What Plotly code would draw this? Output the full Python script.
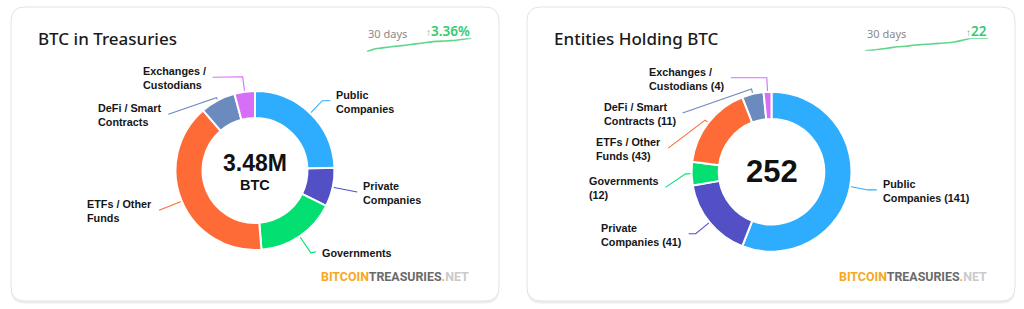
import math
import textwrap
import plotly.graph_objects as go

W, H = 1024, 309

# ---------------- data ----------------
categories = ["Public Companies", "Private Companies", "Governments",
              "ETFs / Other Funds", "DeFi / Smart Contracts", "Exchanges / Custodians"]
slice_colors = ["#2eadfe", "#5350c6", "#03e071", "#fe6b37", "#6b8bbf", "#d66ff5"]

btc_holdings_m = [0.85, 0.275, 0.57, 1.39, 0.25, 0.145]   # million BTC
entity_counts = [141, 41, 12, 43, 11, 4]

btc_total_label = "3.48M"
btc_change_label = "3.36%"
entity_change_label = "22"

spark_days = [0, 2, 4, 6, 8, 10, 12, 14, 16, 18, 20, 22, 24, 26, 28, 30]
btc_30d_m = [3.367, 3.388, 3.397, 3.405, 3.412, 3.418, 3.425, 3.433,
             3.440, 3.448, 3.454, 3.457, 3.460, 3.466, 3.474, 3.480]
entities_30d = [230, 231, 233, 235, 237, 238, 240, 241,
                242, 243, 244, 246, 249, 252, 252, 252]

# ---------------- layout constants ----------------
GREEN = "#33c96e"
SPARK_GREEN = "#5fd68b"
LABEL_FONT = dict(family="Liberation Sans, Arial, sans-serif", size=10.8, color="#161616", weight="bold")
CENTER_FONT = "Liberation Sans, Arial, sans-serif"

panels = [
    dict(card=(11, 7, 499, 301), title="BTC in Treasuries", cx=255, cy=170.5, R=79.5,
         values=btc_holdings_m, counts=False,
         # (radial length, horizontal length, vertical shift) per slice label
         label_style=[(17.5, 8, 0), (18, 7, 1), (20, 5, -1), (18, 6, 2), (3, 48, 16.7), (15, 30, 0.5)],
         spark_x=(366.7, 471.7), spark_y=(38.3, 51.7), spark=btc_30d_m,
         days_x=366, change=btc_change_label, change_x=471.5, logo_x=471),
    dict(card=(527, 7, 1015, 301), title="Entities Holding BTC", cx=771.5, cy=171.7, R=80,
         values=entity_counts, counts=True,
         label_style=[(18, 9, 0), (18, 7, 0), (6, 20, 13.5), (4, 37, 28), (5, 69, 24), (14, 36, 0)],
         spark_x=(865, 988.3), spark_y=(38.3, 50.7), spark=entities_30d,
         days_x=865, change=entity_change_label, change_x=989, logo_x=989),
]


def rounded_rect(x0, y0, x1, y1, r):
    return (f"M{x0 + r},{y0} L{x1 - r},{y0} Q{x1},{y0} {x1},{y0 + r} "
            f"L{x1},{y1 - r} Q{x1},{y1} {x1 - r},{y1} L{x0 + r},{y1} "
            f"Q{x0},{y1} {x0},{y1 - r} L{x0},{y0 + r} Q{x0},{y0} {x0 + r},{y0} Z")


fig = go.Figure()
shapes, annotations = [], []

# invisible pixel-space axes (x: 0..W, y: 0..H downward)
fig.add_trace(go.Scatter(x=[0, W], y=[0, H], mode="markers", marker=dict(opacity=0),
                         hoverinfo="skip", showlegend=False))

for pi, p in enumerate(panels):
    x0, y0, x1, y1 = p["card"]
    # shadow + card
    shapes.append(dict(type="path", path=rounded_rect(x0, y0 + 2.5, x1, y1 + 2.5, 14), xref="x", yref="y",
                       fillcolor="rgba(0,0,0,0.07)", line=dict(width=0), layer="below"))
    shapes.append(dict(type="path", path=rounded_rect(x0, y0, x1, y1, 14), xref="x", yref="y",
                       fillcolor="white", line=dict(color="#e3e3e3", width=1), layer="below"))

    # title
    annotations.append(dict(text=p["title"], x=x0 + 25, y=38, xref="x", yref="y", xanchor="left",
                            yanchor="middle", showarrow=False,
                            font=dict(family="Noto Sans, sans-serif", size=17, color="#1a1a1a", weight=500)))

    # donut
    cx, cy, R = p["cx"], p["cy"], p["R"]
    fig.add_trace(go.Pie(labels=categories, values=p["values"], hole=0.66, sort=False,
                         direction="clockwise", rotation=0, textinfo="none", hoverinfo="label+value",
                         marker=dict(colors=slice_colors, line=dict(color="white", width=2)),
                         domain=dict(x=[(cx - R) / W, (cx + R) / W], y=[1 - (cy + R) / H, 1 - (cy - R) / H]),
                         showlegend=False))

    # leader lines and labels, computed from slice angles
    total = sum(p["values"])
    cum = 0
    for i, (cat, v) in enumerate(zip(categories, p["values"])):
        mid = (cum + v / 2) / total * 2 * math.pi
        cum += v
        L1, L2, dy = p["label_style"][i]
        sx, sy = math.sin(mid), -math.cos(mid)
        ex, ey = cx + R * sx, cy + R * sy
        px, py = cx + (R + L1) * sx, cy + (R + L1) * sy
        right = sx >= 0
        qx, qy = px + (L2 if right else -L2), py + dy
        fig.add_trace(go.Scatter(x=[ex, px, qx], y=[ey, py, qy], mode="lines",
                                 line=dict(color=slice_colors[i], width=1.1), hoverinfo="skip",
                                 showlegend=False))
        name = f"{cat} ({v})" if p["counts"] else cat
        txt = "<br>".join(textwrap.wrap(name, 15))
        annotations.append(dict(text=txt, x=qx + (4 if right else -5), y=qy + 1, xref="x", yref="y",
                                xanchor="left" if right else "right", yanchor="middle", align="left",
                                showarrow=False, font=LABEL_FONT))

    # centre text
    if pi == 0:
        annotations.append(dict(text=btc_total_label, x=cx, y=cy - 8, xref="x", yref="y", showarrow=False,
                                xanchor="center", yanchor="middle",
                                font=dict(family=CENTER_FONT, size=23, color="#111", weight="bold")))
        annotations.append(dict(text="BTC", x=cx, y=cy + 14, xref="x", yref="y", showarrow=False,
                                xanchor="center", yanchor="middle",
                                font=dict(family=CENTER_FONT, size=14.5, color="#111", weight="bold")))
    else:
        annotations.append(dict(text=str(sum(entity_counts)), x=cx, y=cy, xref="x", yref="y", showarrow=False,
                                xanchor="center", yanchor="middle",
                                font=dict(family=CENTER_FONT, size=31, color="#111", weight="bold")))

    # sparkline
    ax = pi + 2
    sx0, sx1 = p["spark_x"]
    sy0, sy1 = p["spark_y"]
    fig.add_trace(go.Scatter(x=spark_days, y=p["spark"], mode="lines", xaxis=f"x{ax}", yaxis=f"y{ax}",
                             line=dict(color=SPARK_GREEN, width=1.6, shape="spline", smoothing=0.6),
                             hoverinfo="skip", showlegend=False))
    fig.layout[f"xaxis{ax}"] = dict(domain=[sx0 / W, sx1 / W], range=[spark_days[0], spark_days[-1]],
                                    visible=False, anchor=f"y{ax}", fixedrange=True)
    fig.layout[f"yaxis{ax}"] = dict(domain=[1 - sy1 / H, 1 - sy0 / H], range=[min(p["spark"]), max(p["spark"])],
                                    visible=False, anchor=f"x{ax}", fixedrange=True)
    annotations.append(dict(text="30 days", x=p["days_x"], y=33.5, xref="x", yref="y", xanchor="left",
                            yanchor="middle", showarrow=False,
                            font=dict(family="Noto Sans, sans-serif", size=11, color="#8a8a8a")))
    annotations.append(dict(text=f"<span style='font-size:10px;font-weight:400'>↑</span>{p['change']}",
                            x=p["change_x"], y=30.5, xref="x", yref="y", xanchor="right", yanchor="middle",
                            showarrow=False,
                            font=dict(family="Noto Sans, sans-serif", size=13.5, color=GREEN, weight=600)))

    # logo
    annotations.append(dict(
        text="<span style='color:#f6a821'>BITCOIN</span><span style='color:#6a6a6a'>TREASURIES</span>"
             "<span style='color:#f6a821'>.</span><span style='color:#cacaca'>NET</span>",
        x=p["logo_x"], y=276, xref="x", yref="y", xanchor="right", yanchor="middle", showarrow=False,
        font=dict(family="Roboto, sans-serif", size=12.4, weight="bold")))

fig.update_layout(
    width=W, height=H, autosize=False,
    margin=dict(l=0, r=0, t=0, b=0, pad=0),
    paper_bgcolor="white", plot_bgcolor="rgba(0,0,0,0)",
    showlegend=False,
    xaxis=dict(range=[0, W], domain=[0, 1], visible=False, fixedrange=True),
    yaxis=dict(range=[H, 0], domain=[0, 1], visible=False, fixedrange=True),
    shapes=shapes, annotations=annotations,
)

fig.write_html("out.html")
